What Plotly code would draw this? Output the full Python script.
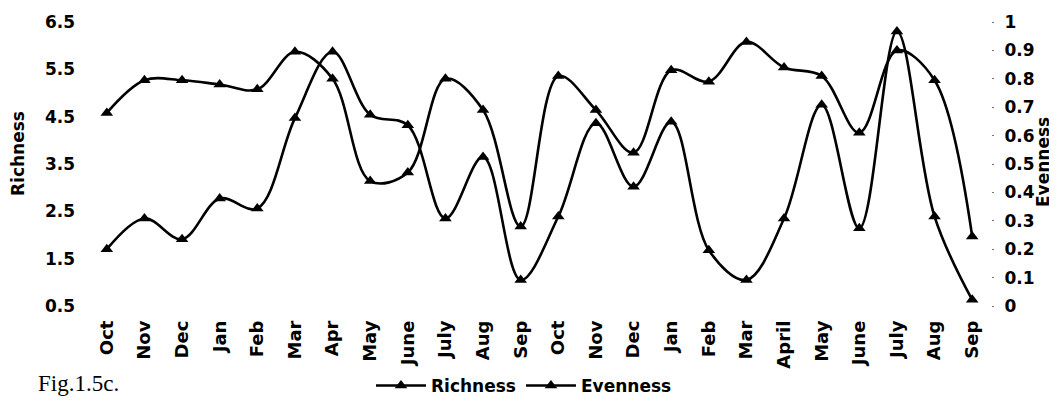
import plotly.graph_objects as go

months = ["Oct", "Nov", "Dec", "Jan", "Feb", "Mar", "Apr", "May", "June", "July", "Aug", "Sep",
          "Oct", "Nov", "Dec", "Jan", "Feb", "Mar", "April", "May", "June", "July", "Aug", "Sep"]
richness = [1.70, 2.35, 1.91, 2.77, 2.56, 4.47, 5.87, 4.54, 4.32, 2.35, 3.65, 1.05,
            2.39, 4.36, 3.02, 4.39, 1.68, 1.05, 2.35, 4.75, 2.14, 6.30, 2.39, 0.63]
evenness = [0.68, 0.795, 0.795, 0.78, 0.763, 0.895, 0.80, 0.44, 0.47, 0.80, 0.69, 0.28,
            0.81, 0.69, 0.54, 0.83, 0.79, 0.93, 0.84, 0.81, 0.61, 0.90, 0.795, 0.245]

xpos = list(range(len(months)))
FONT = "DejaVu Sans"

# page has an 8px body margin: figure drawn at (8, 8)
W, H = 1049, 388
L, R, T, B = 80, 66, 14, 90
PW = W - L - R
PH = H - T - B


def px(x):
    return (x - L) / PW


def py(y):
    return (H - B - y) / PH


fig = go.Figure()
fig.add_trace(go.Scatter(
    x=xpos, y=richness, name="Richness", mode="lines+markers",
    line=dict(color="black", width=2.6, shape="spline", smoothing=1.0),
    marker=dict(symbol="triangle-up", size=11, color="black"),
    yaxis="y"))
fig.add_trace(go.Scatter(
    x=xpos, y=evenness, name="Evenness", mode="lines+markers",
    line=dict(color="black", width=2.6, shape="spline", smoothing=1.0),
    marker=dict(symbol="triangle-up", size=11, color="black"),
    yaxis="y2"))

tickfont = dict(family=FONT, size=17, color="black", weight="bold")
xtickfont = dict(family=FONT, size=18, color="black", weight="bold")

fig.update_layout(
    width=W, height=H, autosize=False,
    margin=dict(l=L, r=R, t=T, b=B, autoexpand=False),
    paper_bgcolor="white", plot_bgcolor="white",
    showlegend=True,
    legend=dict(orientation="h", x=px(363), xanchor="left", y=py(378),
                yanchor="middle",
                font=dict(family=FONT, size=17, color="black", weight="bold"),
                bgcolor="rgba(0,0,0,0)", itemwidth=50, tracegroupgap=0),
    xaxis=dict(range=[-0.5, 23.5], tickmode="array", tickvals=xpos, ticktext=months,
               tickangle=-90, tickfont=xtickfont, showgrid=False, zeroline=False,
               showline=False, ticks="", ticklabelstandoff=10, automargin=False),
    yaxis=dict(range=[0.5, 6.5], tick0=0.5, dtick=1, tickfont=tickfont, showgrid=False,
               zeroline=False, showline=False, ticks="", ticklabelstandoff=12,
               automargin=False),
    yaxis2=dict(range=[0, 1], tick0=0, dtick=0.1, tickfont=tickfont, overlaying="y",
                side="right", showgrid=False, zeroline=False, showline=False,
                ticks="outside", ticklen=2, tickwidth=1, tickcolor="#777",
                ticklabelstandoff=7, automargin=False),
    annotations=[
        dict(text="Richness", x=px(10), y=py(146), xref="paper", yref="paper",
             textangle=-90, showarrow=False, xanchor="center", yanchor="middle",
             font=dict(family=FONT, size=17, color="black", weight="bold")),
        dict(text="Evenness", x=px(1035), y=py(154), xref="paper",
             yref="paper", textangle=-90, showarrow=False, xanchor="center",
             yanchor="middle",
             font=dict(family=FONT, size=17, color="black", weight="bold")),
        dict(text="Fig.1.5c.", x=px(28), y=py(375), xref="paper",
             yref="paper", showarrow=False, xanchor="left", yanchor="middle",
             font=dict(family="Liberation Serif", size=23, color="black")),
    ],
)

fig.write_html("out.html")
